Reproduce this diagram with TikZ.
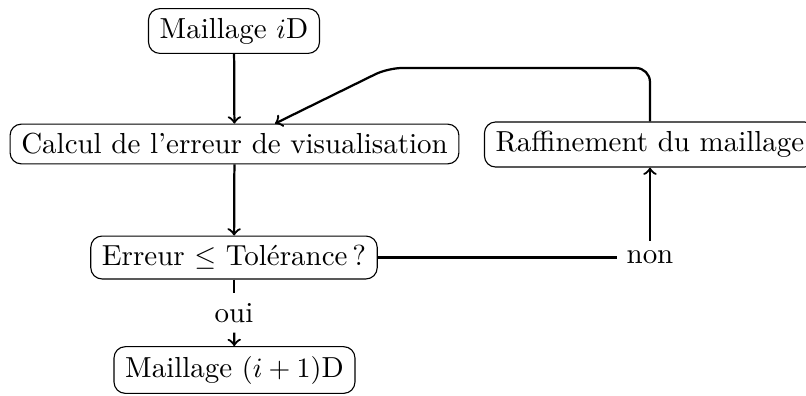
\documentclass[tikz,border=0pt]{standalone}
\usepackage{fontspec}
\begin{document}
\begin{tikzpicture}[x=0.35714pt,y=-0.35714pt,
  every node/.style={font=\fontsize{10.35pt}{12.4pt}\selectfont},
  box/.style={draw,rounded corners=4pt,inner xsep=4pt,inner ysep=3.33pt},
  conn/.style={thick},
  ]
\useasboundingbox (0,0) rectangle (806,395);
\node[box] (mi) at (234,31) {Maillage $i$D};
\node[box] (calc) at (234.5,144) {Calcul de l'erreur de visualisation};
\node[box] (raf) at (650,144.5) {Raffinement du maillage};
\node[box] (err) at (234,257.5) {Erreur $\leq$ Tolérance\,?};
\node (non) at (650,257.5) {non};
\node (oui) at (234,313) {oui};
\node[box] (mf) at (234.5,370) {Maillage $(i+1)$D};
\coordinate (corner) at (388,68);
\coordinate (tipx) at (275,0);
\draw[conn,->] (mi) -- (calc);
\draw[conn,->] (calc) -- (err);
\draw[conn] (err) -- (non);
\draw[conn,->] (non) -- (raf);
\draw[conn] (err) -- (oui);
\draw[conn,->] (oui) -- (mf);
\draw[conn,->,rounded corners=5pt] (raf.north) |- (corner) -- (tipx |- calc.north);
\end{tikzpicture}
\end{document}
